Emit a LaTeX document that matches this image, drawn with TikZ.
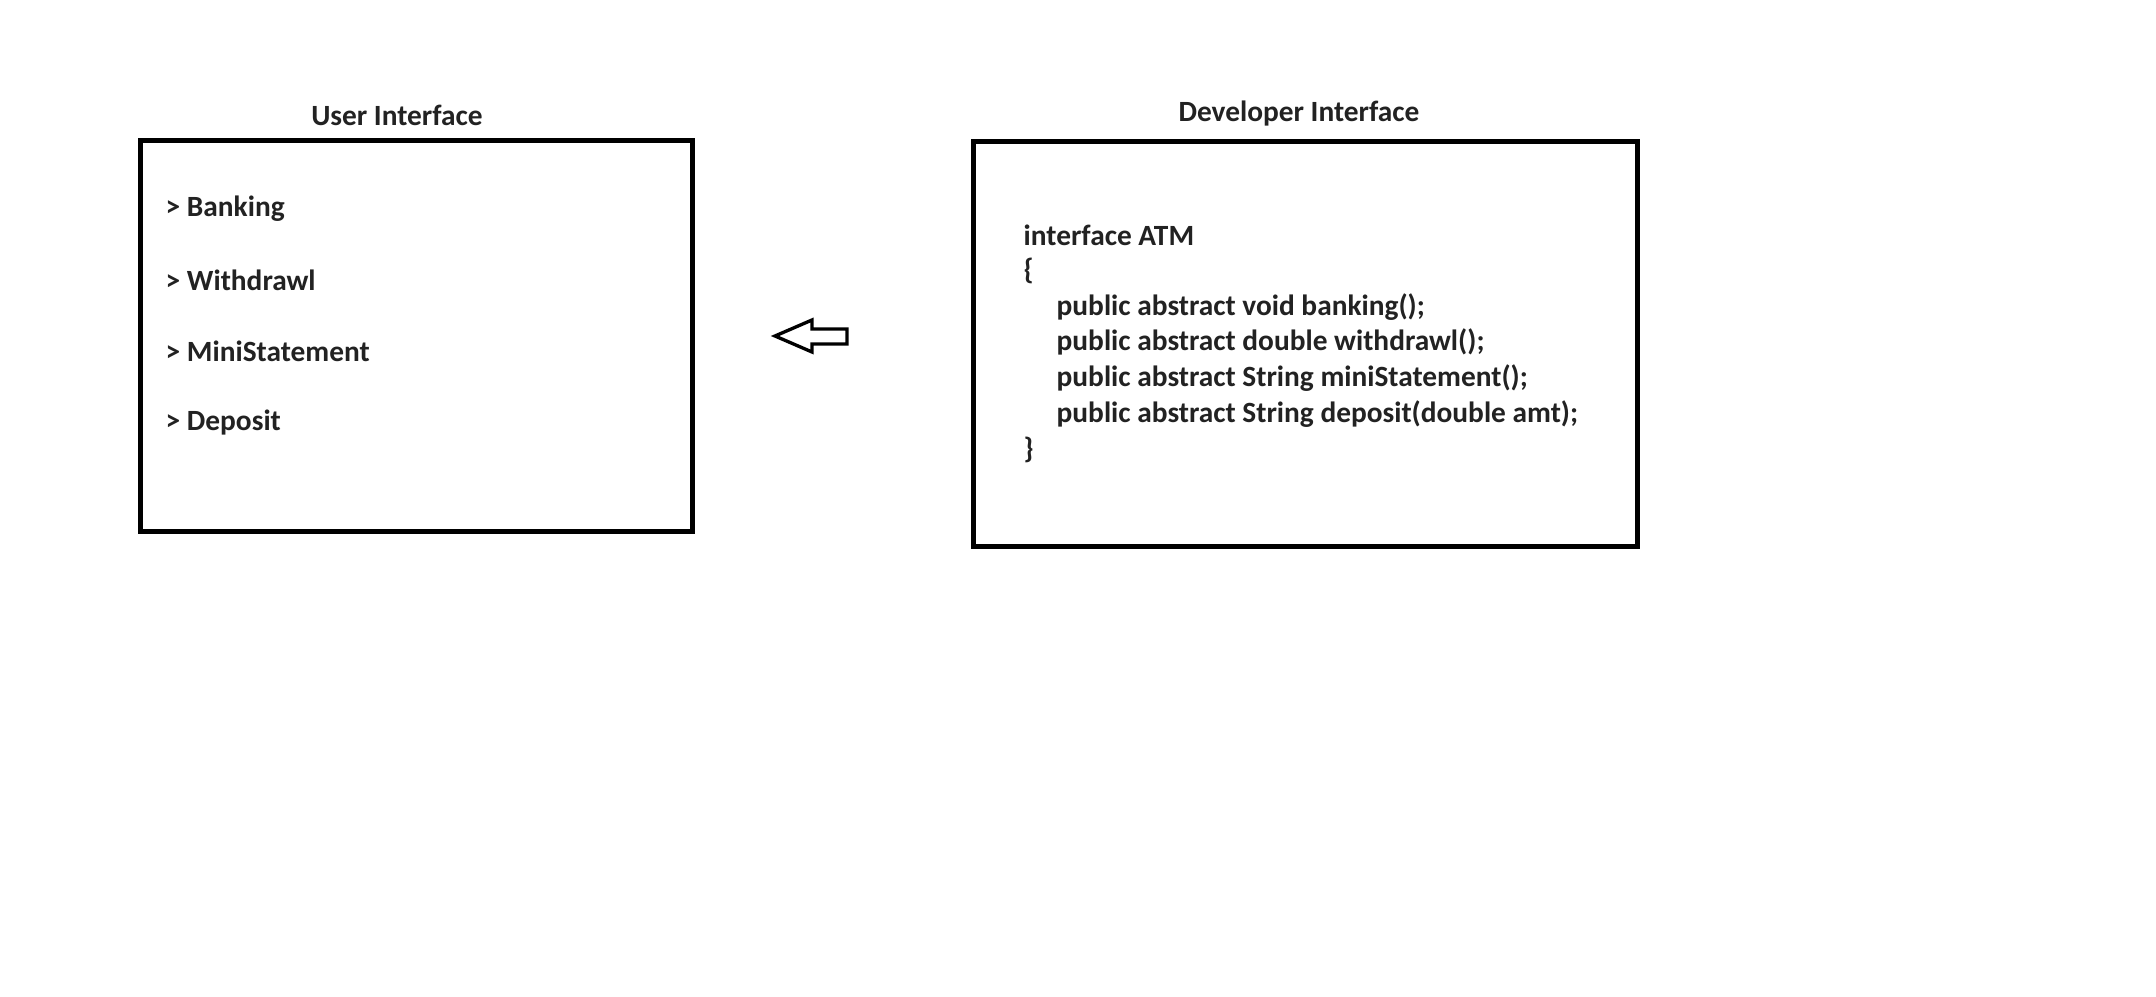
\documentclass[tikz,border=0pt]{standalone}
\usepackage{fontspec}
\setmainfont{Carlito}
\definecolor{txt}{HTML}{222222}
\begin{document}
\begin{tikzpicture}[x=0.01cm,y=-0.01cm,
  panel/.style={draw=black,line width=1.3pt,rectangle,inner sep=0pt,anchor=north west},
  ttl/.style={font=\fontsize{8.35}{10}\selectfont\bfseries,text=txt,inner sep=0pt},
  item/.style={font=\fontsize{8.35}{10}\selectfont\bfseries,text=txt,inner sep=0pt,anchor=west},
  blockarrow/.style={draw=black,line width=0.95pt,fill=white,line join=miter}]
\useasboundingbox[fill=white] (0,0) rectangle (2156,997);
% left panel
\node[panel,minimum width=552*0.01cm,minimum height=391*0.01cm] (ui) at (138,138) {};
\node[ttl] (uititle) at (397,115) {User Interface};
\node[item] (i1) at (165,209) {> Banking};
\node[item] (i2) at (165,280) {> Withdrawl};
\node[item] (i3) at (165,351) {> MiniStatement};
\node[item] (i4) at (165,423) {> Deposit};
% right panel
\node[panel,minimum width=664*0.01cm,minimum height=405*0.01cm] (di) at (971,139) {};
\node[ttl] (dititle) at (1299,114) {Developer Interface};
\node[item] (c1) at (1023,235) {interface ATM};
\node[item] (c2) at (1023,271) {\{};
\node[item] (c3) at (1056,307) {public abstract void banking();};
\node[item] (c4) at (1056,342) {public abstract double withdrawl();};
\node[item] (c5) at (1056,378) {public abstract String miniStatement();};
\node[item] (c6) at (1056,414) {public abstract String deposit(double amt);};
\node[item] (c7) at (1023,450) {\}};
% block arrow
\draw[blockarrow] (775,336) -- (812,320) -- (812,329) -- (847,329) -- (847,344) -- (812,344) -- (812,352) -- cycle;
\end{tikzpicture}
\end{document}
